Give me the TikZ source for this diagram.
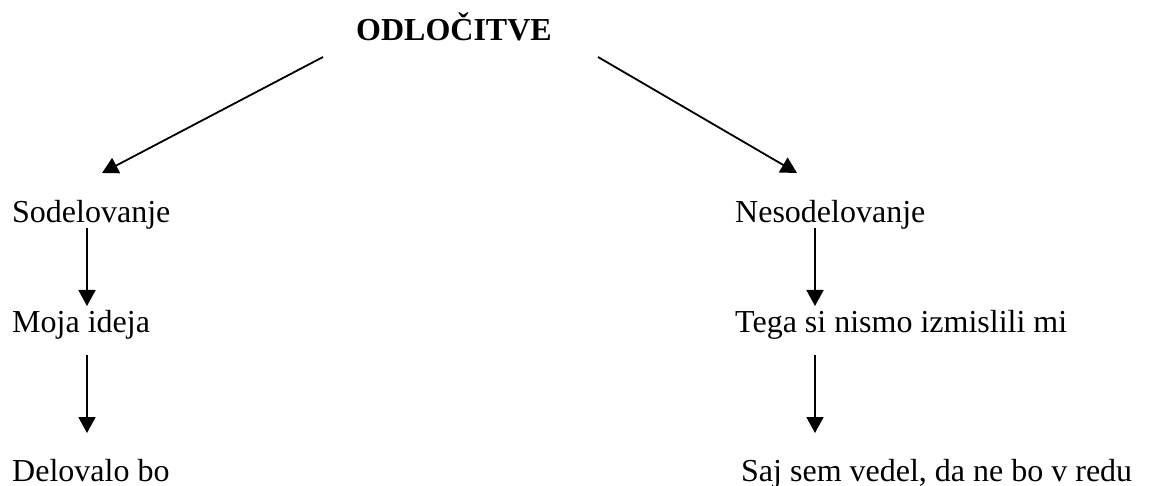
\documentclass[tikz,border=0pt]{standalone}
\usepackage{fontspec}
\setmainfont{Liberation Serif}
\usetikzlibrary{arrows.meta}
\begin{document}
\begin{tikzpicture}[x=1pt,y=-1pt,
  label/.style={inner sep=0pt,anchor=base west,font=\fontsize{32}{38}\selectfont},
  heading/.style={inner sep=0pt,anchor=base,font=\fontsize{32}{38}\selectfont\bfseries},
  arr/.style={line width=1.8pt,-{Triangle[length=16pt,width=17pt]}}]
\useasboundingbox (0,0) rectangle (1149,486);

% heading
\node[heading] (top) at (454,41) {ODLOČITVE};

% left branch
\node[label] (sod)  at (12,223) {Sodelovanje};
\node[label] (moja) at (12,333) {Moja ideja};
\node[label] (del)  at (12,481) {Delovalo bo};

% right branch
\node[label] (nes)  at (735,223) {Nesodelovanje};
\node[label] (tega) at (735,333) {Tega si nismo izmislili mi};
\node[label] (saj)  at (741,481) {Saj sem vedel, da ne bo v redu};

% connector end points
\coordinate (tl) at (323,57);
\coordinate (tr) at (598,57);
\coordinate (sl) at (102,173);
\coordinate (sr) at (797,173);
\coordinate (l1a) at (87,228);  \coordinate (l1b) at (87,306);
\coordinate (l2a) at (87,355);  \coordinate (l2b) at (87,433);
\coordinate (r1a) at (815,228); \coordinate (r1b) at (815,306);
\coordinate (r2a) at (815,355); \coordinate (r2b) at (815,433);

\draw[arr] (tl) -- (sl);
\draw[arr] (tr) -- (sr);
\draw[arr] (l1a) -- (l1b);
\draw[arr] (l2a) -- (l2b);
\draw[arr] (r1a) -- (r1b);
\draw[arr] (r2a) -- (r2b);
\end{tikzpicture}
\end{document}
